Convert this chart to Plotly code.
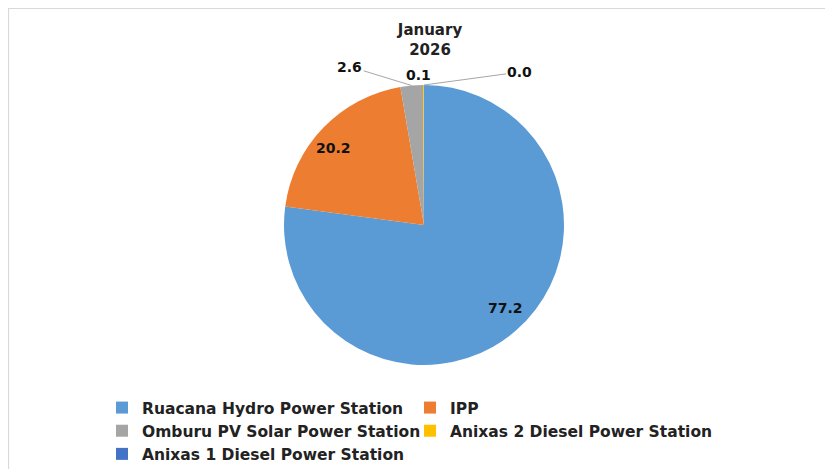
import math
import plotly.graph_objects as go

stations = ["Ruacana Hydro Power Station", "IPP", "Omburu PV Solar Power Station",
            "Anixas 2 Diesel Power Station", "Anixas 1 Diesel Power Station"]
shares = [77.2, 20.2, 2.6, 0.1, 0.0]
colors = ["#5B9BD5", "#ED7D31", "#A5A5A5", "#FFC000", "#4472C4"]
title_text = "January<br>2026"

# layout geometry (figure pixels)
W, H = 825, 461
CX, CY, R = 416, 217, 140

def px_to_paper(x, y):
    return x / W, (H - y) / H

dx0, dy0 = px_to_paper(CX - R, CY + R)
dx1, dy1 = px_to_paper(CX + R, CY - R)

fig = go.Figure()
fig.add_trace(go.Pie(
    labels=stations, values=shares, textinfo="none",
    sort=False, direction="clockwise", rotation=0,
    marker=dict(colors=colors, line=dict(width=0)),
    domain=dict(x=[dx0, dx1], y=[dy0, dy1]),
    hoverinfo="label+value",
))

label_style = [
    dict(kind="in", k=0.88),
    dict(kind="in", k=0.90),
    dict(kind="out", ax=-62, ay=-19, line=True),
    dict(kind="out", ax=-5, ay=-10, line=False),
    dict(kind="out", ax=96, ay=-13, line=True),
]
total = sum(shares)
cum = 0.0
annotations = []
for v, st in zip(shares, label_style):
    mid = (cum + v / 2) / total * 2 * math.pi
    cum += v
    sx, sy = math.sin(mid), -math.cos(mid)
    txt = f"{v:.1f}"
    fnt = dict(family="DejaVu Sans", size=14, color="#111111", weight="bold")
    if st["kind"] == "in":
        x, y = px_to_paper(CX + st["k"] * R * sx, CY + st["k"] * R * sy)
        annotations.append(dict(x=x, y=y, xref="paper", yref="paper", text=txt,
                                showarrow=False, font=fnt))
    else:
        x, y = px_to_paper(CX + R * sx, CY + R * sy)
        annotations.append(dict(x=x, y=y, xref="paper", yref="paper", text=txt,
                                showarrow=True, arrowhead=0, arrowwidth=1,
                                arrowcolor="#A6A6A6" if st["line"] else "rgba(0,0,0,0)",
                                ax=st["ax"], ay=st["ay"], standoff=0, font=fnt))

fig.update_layout(
    width=W, height=H,
    margin=dict(l=0, r=0, t=0, b=0, autoexpand=False),
    paper_bgcolor="white", plot_bgcolor="white",
    title=dict(text=title_text, x=422/W, xref="container", xanchor="center",
               y=1 - 27/H, yref="container", yanchor="top",
               font=dict(family="DejaVu Sans", size=15, color="#222222", weight="bold")),
    legend=dict(orientation="h", x=94/W, xanchor="left", y=1 - 383/H, yanchor="top",
                entrywidth=263, entrywidthmode="pixels",
                font=dict(family="DejaVu Sans", size=15.5, color="#222222", weight="bold"),
                itemclick=False, traceorder="normal", tracegroupgap=0),
    annotations=annotations,
    shapes=[dict(type="rect", xref="paper", yref="paper", x0=0.5/W, x1=821/W,
                 y0=-0.05, y1=1 - 0.5/H, line=dict(color="#D9D9D9", width=1.2))],
)

fig.write_html("out.html")
